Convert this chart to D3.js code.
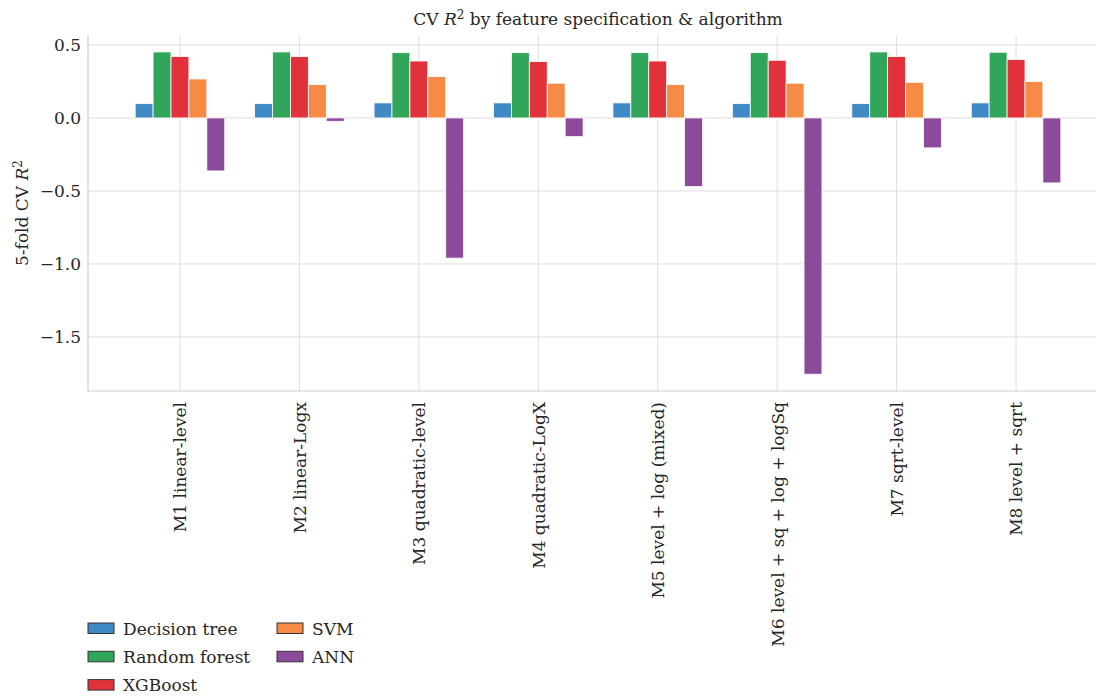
<!DOCTYPE html>
<html>
<head>
<meta charset="utf-8">
<script src="https://cdn.jsdelivr.net/npm/d3@7"></script>
<style>
  html, body { margin: 0; padding: 0; background: #fff; }
  svg { display: block; }
  text { font-family: "DejaVu Serif", serif; fill: #262626; }
</style>
</head>
<body>
<svg id="chart" width="1096" height="696"></svg>
<script>
// Feature specifications (x categories)
const specs = [
  "M1 linear-level",
  "M2 linear-Logx",
  "M3 quadratic-level",
  "M4 quadratic-LogX",
  "M5 level + log (mixed)",
  "M6 level + sq + log + logSq",
  "M7 sqrt-level",
  "M8 level + sqrt"
];

// Algorithms and their colours
const algorithms = ["Decision tree", "Random forest", "XGBoost", "SVM", "ANN"];
const algoColors = ["#3f8ac4", "#31a55a", "#e1323b", "#f58b45", "#8c4a9b"];

// 5-fold CV R² per algorithm, one value per specification
const decisionTree = [0.098, 0.098, 0.103, 0.103, 0.103, 0.098, 0.098, 0.103];
const randomForest = [0.452, 0.452, 0.447, 0.447, 0.447, 0.447, 0.452, 0.450];
const xgboost      = [0.420, 0.420, 0.390, 0.386, 0.390, 0.395, 0.420, 0.400];
const svm          = [0.267, 0.228, 0.283, 0.238, 0.228, 0.238, 0.244, 0.249];
const ann          = [-0.363, -0.023, -0.960, -0.128, -0.470, -1.755, -0.205, -0.445];

const yTicks = [-1.5, -1.0, -0.5, 0.0, 0.5];

const seriesValues = [decisionTree, randomForest, xgboost, svm, ann];

const svg = d3.select("#chart");
const W = 1096, H = 696;
const plot = { left: 88, right: 1108, top: 35, bottom: 391 };

const x = d3.scaleLinear().domain([-0.77, specs.length - 1 + 0.77]).range([plot.left, plot.right]);
const y = d3.scaleLinear().domain([-1.87, 0.568]).range([plot.bottom, plot.top]);
const barW = 0.15;

const clip = svg.append("defs").append("clipPath").attr("id", "plotclip")
  .append("rect").attr("x", plot.left).attr("y", plot.top)
  .attr("width", plot.right - plot.left).attr("height", plot.bottom - plot.top);

// Grid lines
const grid = svg.append("g");
grid.selectAll("line.h").data(yTicks).join("line")
  .attr("x1", plot.left).attr("x2", plot.right)
  .attr("y1", d => y(d)).attr("y2", d => y(d))
  .attr("stroke", "#dedede").attr("stroke-width", 1);
grid.selectAll("line.v").data(specs.map((_, i) => i)).join("line")
  .attr("x1", d => x(d)).attr("x2", d => x(d))
  .attr("y1", plot.top).attr("y2", plot.bottom)
  .attr("stroke", "#dedede").attr("stroke-width", 1);

// Bars
const bars = svg.append("g").attr("clip-path", "url(#plotclip)");
seriesValues.forEach((vals, s) => {
  const offset = (s - 2) * barW;
  bars.append("g").selectAll("rect").data(vals).join("rect")
    .attr("x", (d, i) => x(i + offset - barW / 2))
    .attr("width", x(barW) - x(0))
    .attr("y", d => y(Math.max(0, d)))
    .attr("height", d => Math.abs(y(d) - y(0)))
    .attr("fill", algoColors[s])
    .attr("stroke", "#ffffff").attr("stroke-width", 0.8);
});

// Spines
svg.append("line").attr("x1", plot.left).attr("x2", plot.left)
  .attr("y1", plot.top).attr("y2", plot.bottom).attr("stroke", "#cfcfcf").attr("stroke-width", 1.2);
svg.append("line").attr("x1", plot.left).attr("x2", plot.right)
  .attr("y1", plot.bottom).attr("y2", plot.bottom).attr("stroke", "#cfcfcf").attr("stroke-width", 1.2);

// Y axis
const yAxis = d3.axisLeft(y).tickValues(yTicks).tickSize(0).tickPadding(7)
  .tickFormat(d => d.toFixed(1).replace("-", "\u2212"));
const gy = svg.append("g").attr("transform", `translate(${plot.left},0)`).call(yAxis);
gy.select(".domain").remove();
gy.selectAll("text").style("font-size", "17px").style("font-family", "DejaVu Serif, serif").attr("fill", "#262626");

// X axis
const xAxis = d3.axisBottom(x).tickValues(specs.map((_, i) => i)).tickSize(0)
  .tickFormat(i => specs[i]);
const gx = svg.append("g").attr("transform", `translate(0,${plot.bottom})`).call(xAxis);
gx.select(".domain").remove();
gx.selectAll("text")
  .style("font-size", "17px").style("font-family", "DejaVu Serif, serif").attr("fill", "#262626")
  .attr("text-anchor", "end")
  .attr("transform", "rotate(-90)")
  .attr("x", -11).attr("y", 0).attr("dy", "0.35em");

// Title
const title = svg.append("text")
  .attr("x", (plot.left + plot.right) / 2).attr("y", 25)
  .attr("text-anchor", "middle").style("font-size", "17px");
title.append("tspan").text("CV ");
title.append("tspan").attr("font-style", "italic").text("R");
title.append("tspan").attr("dy", -6).style("font-size", "12px").text("2");
title.append("tspan").attr("dy", 6).text(" by feature specification & algorithm");

// Y label
const ylab = svg.append("text")
  .attr("transform", `translate(28,${(plot.top + plot.bottom) / 2}) rotate(-90)`)
  .attr("text-anchor", "middle").style("font-size", "17px");
ylab.append("tspan").text("5-fold CV ");
ylab.append("tspan").attr("font-style", "italic").text("R");
ylab.append("tspan").attr("dy", -6).style("font-size", "12px").text("2");

// Legend (two columns, filled column-first)
const legend = svg.append("g");
const rowsPerCol = 3;
algorithms.forEach((name, i) => {
  const col = Math.floor(i / rowsPerCol), row = i % rowsPerCol;
  const lx = 88 + col * 189, ly = 623 + row * 28.3;
  legend.append("rect").attr("x", lx).attr("y", ly).attr("width", 26).attr("height", 10.5)
    .attr("fill", algoColors[i]).attr("stroke", "#333").attr("stroke-width", 1);
  legend.append("text").attr("x", lx + 35).attr("y", ly + 11.5)
    .style("font-size", "17px").text(name);
});
</script>
</body>
</html>
